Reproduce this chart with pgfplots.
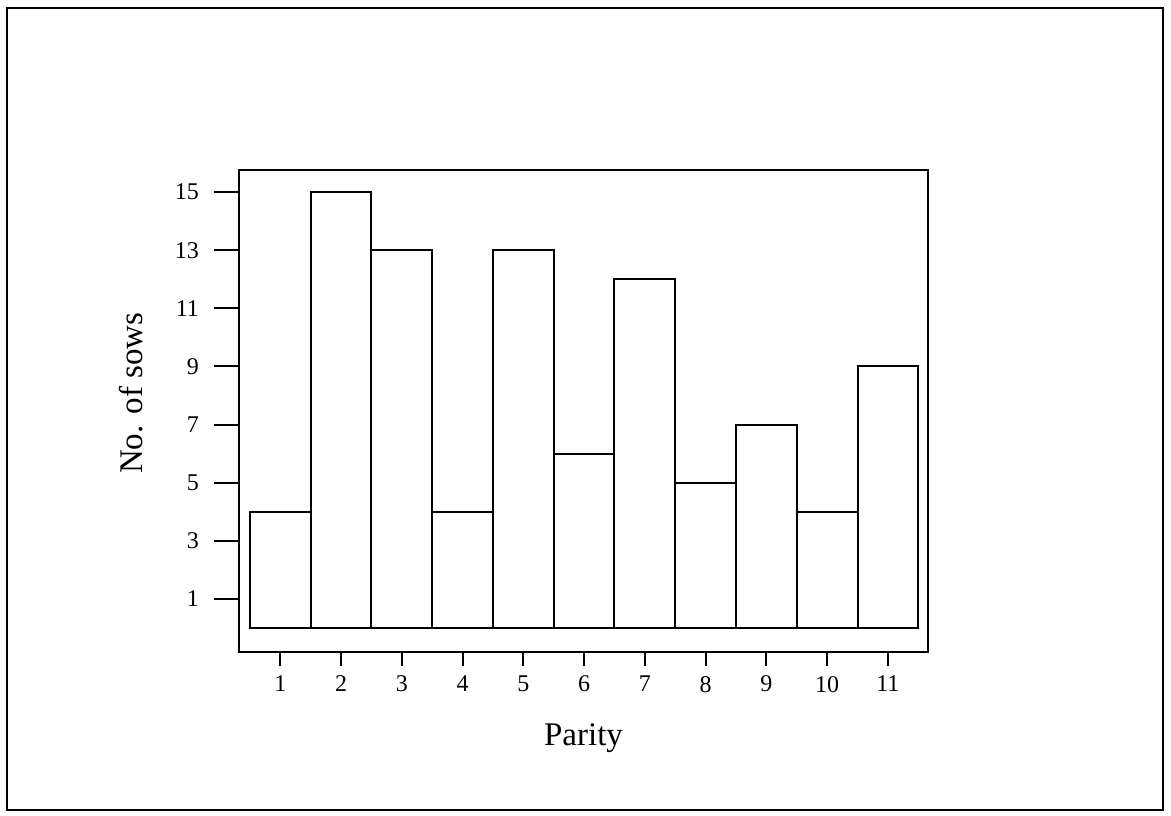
\documentclass[border=0pt]{standalone}
\usepackage{fontspec}
\setmainfont{Liberation Serif}
\usepackage{pgfplots}
\pgfplotsset{compat=1.18}
\begin{document}
\begin{tikzpicture}
\pgfplotsset{
  common/.style={
    at={(0,0)}, anchor=south west,
    scale only axis,
    width=344.5pt, height=241pt,
    xmin=0.32, xmax=11.66,
    ymin=-0.83, ymax=15.76,
    axis line style={line width=1pt, black},
    tick style={line width=1pt, black},
    tick align=outside,
    /pgf/number format/assume math mode=true,
    ticklabel style={font=\fontsize{12}{14}\selectfont},
    xtick pos=bottom, ytick pos=left,
  }
}
\begin{axis}[common,
    major tick length=7pt,
    xtick={1,2,3,4,5,6,7,8,9,10,11},
    ytick=\empty,
    xticklabel style={yshift=-1.5pt},
    xlabel={Parity},
    ylabel={No. of sows},
    label style={font=\fontsize{16.5}{19}\selectfont},
    xlabel style={at={(axis description cs:0.5,0)}, anchor=base, yshift=-46.5pt},
    ylabel style={at={(axis description cs:-0.1567,0.537)}, anchor=center},
  ]
  \addplot[ybar, bar width=1, fill=white, draw=black, line width=1pt]
    coordinates {(1,4) (2,15) (3,13) (4,4) (5,13) (6,6) (7,12) (8,5) (9,7) (10,4) (11,9)};
\end{axis}
\begin{axis}[common,
    major tick length=12.5pt,
    xtick=\empty,
    ytick={1,3,5,7,9,11,13,15},
    yticklabel style={xshift=-4pt},
  ]
\end{axis}
\pgfresetboundingbox
\path[use as bounding box] (-119.5pt,-81.5pt) rectangle (466pt,326pt);
\draw[line width=1.3pt, black] (-116pt,-79pt) rectangle (462pt,322pt);
\end{tikzpicture}
\end{document}
